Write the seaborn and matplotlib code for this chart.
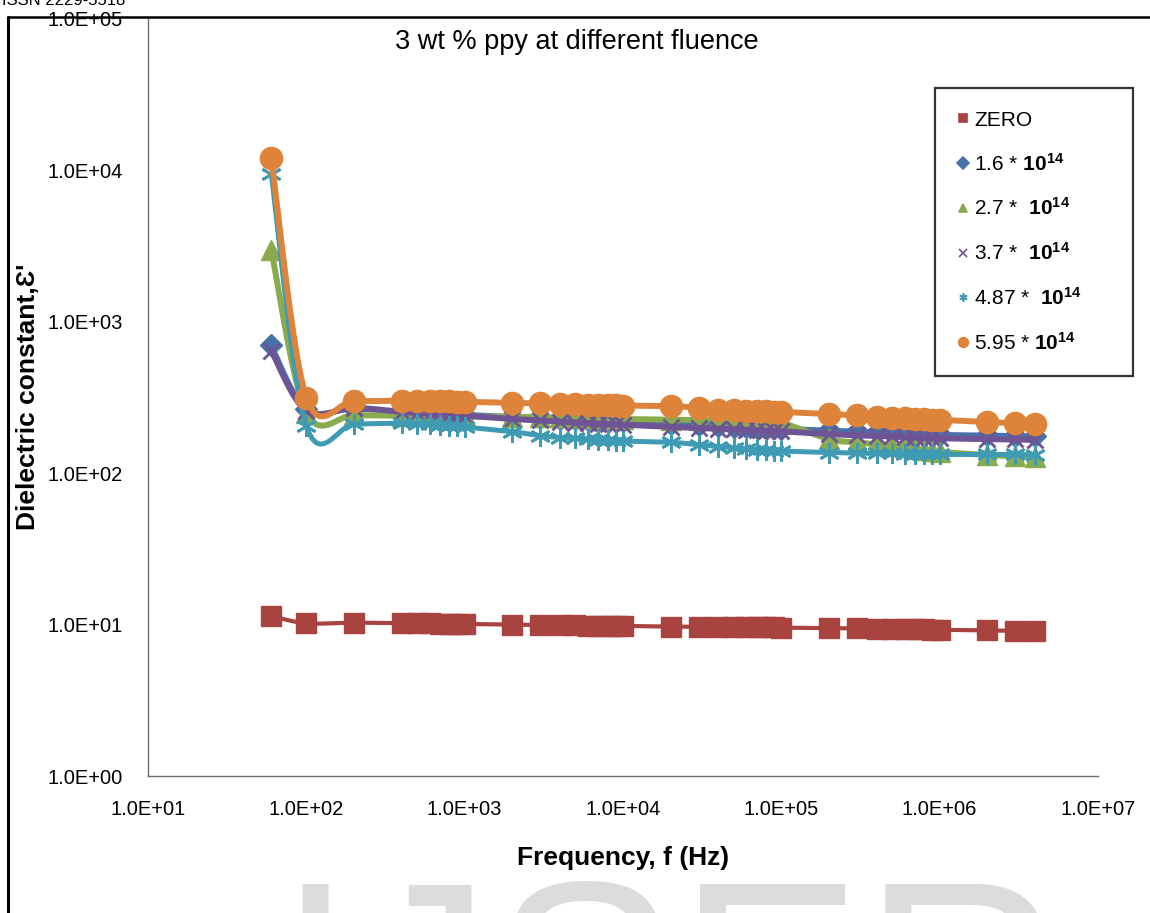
import numpy as np
import matplotlib
matplotlib.use("Agg")
import matplotlib.pyplot as plt
from matplotlib.lines import Line2D
from matplotlib.ticker import FixedLocator, FuncFormatter, NullLocator
import seaborn as sns

# Measurement frequencies (Hz)
freq = [60, 100, 200, 400, 500, 600, 700, 800, 900, 1e3,
        2e3, 3e3, 4e3, 5e3, 6e3, 7e3, 8e3, 9e3, 1e4,
        2e4, 3e4, 4e4, 5e4, 6e4, 7e4, 8e4, 9e4, 1e5,
        2e5, 3e5, 4e5, 5e5, 6e5, 7e5, 8e5, 9e5, 1e6,
        2e6, 3e6, 4e6]

# Dielectric constant for each fluence
eps_zero = [11.4, 10.2, 10.3, 10.2, 10.2, 10.2, 10.1, 10.1, 10.1, 10.1,
            10.0, 9.95, 9.9, 9.9, 9.85, 9.85, 9.8, 9.8, 9.8,
            9.7, 9.7, 9.65, 9.65, 9.6, 9.6, 9.6, 9.6, 9.55,
            9.5, 9.45, 9.4, 9.4, 9.35, 9.3, 9.3, 9.25, 9.25,
            9.15, 9.1, 9.05]
eps_16 = [700, 265, 266, 255, 252, 250, 248, 246, 245, 244,
          236, 232, 229, 227, 225, 224, 222, 221, 220,
          212, 208, 205, 203, 201, 200, 199, 198, 197,
          192, 189, 187, 185, 184, 183, 182, 181, 180,
          178, 177, 176]
eps_27 = [3000, 250, 242, 240, 239, 239, 238, 238, 237, 237,
          236, 235, 234, 233, 232, 231, 230, 229, 228,
          226, 224, 223, 222, 221, 220, 219, 218, 217,
          168, 160, 155, 151, 148, 145, 142, 140, 138,
          132, 129, 127]
eps_37 = [645, 258, 270, 254, 250, 247, 245, 243, 241, 240,
          228, 223, 219, 216, 214, 212, 211, 210, 209,
          202, 199, 197, 195, 193, 192, 191, 190, 189,
          181, 178, 176, 175, 174, 173, 172, 171, 170,
          168, 167, 166]
eps_487 = [9500, 205, 211, 214, 212, 210, 208, 206, 204, 202,
           188, 177, 172, 170, 168, 166, 165, 164, 163,
           160, 154, 150, 147, 145, 143, 142, 141, 140,
           137, 136, 135, 135, 134, 134, 134, 133, 133,
           133, 133, 132]
eps_595 = [12000, 315, 300, 302, 301, 300, 299, 298, 297, 296,
           292, 289, 287, 285, 284, 283, 282, 281, 280,
           277, 271, 262, 260, 258, 257, 256, 255, 254,
           246, 241, 236, 233, 231, 229, 227, 226, 225,
           218, 214, 211]

labels = ["ZERO",
          r"1.6 * $\mathbf{10}^{\mathbf{14}}$",
          r"2.7 *  $\mathbf{10}^{\mathbf{14}}$",
          r"3.7 *  $\mathbf{10}^{\mathbf{14}}$",
          r"4.87 *  $\mathbf{10}^{\mathbf{14}}$",
          r"5.95 * $\mathbf{10}^{\mathbf{14}}$"]
series = [eps_zero, eps_16, eps_27, eps_37, eps_487, eps_595]
colors = ["#A8433F", "#4672A8", "#8AAA4E", "#6E5494", "#3F9BB4", "#DE833A"]
markers = ["s", "D", "^", "x", (6, 2, 0), "o"]
msizes = [14, 11, 15, 12, 15, 16]
mew = [1, 1, 1, 2.0, 2.0, 1]
lwidths = [3.0, 3.8, 4.3, 4.3, 3.6, 4.3]

sns.set_theme(style="white")
plt.rcParams["font.family"] = ["Liberation Sans", "DejaVu Sans"]
plt.rcParams["mathtext.fontset"] = "custom"
plt.rcParams["mathtext.rm"] = "Liberation Sans"
plt.rcParams["mathtext.bf"] = "Liberation Sans:bold"
plt.rcParams["mathtext.it"] = "Liberation Sans:italic"
plt.rcParams["text.color"] = "black"
plt.rcParams["axes.labelcolor"] = "black"
plt.rcParams["xtick.color"] = "black"
plt.rcParams["ytick.color"] = "black"

W, H = 1150, 913
fig = plt.figure(figsize=(W / 100, H / 100), dpi=100)
fig.patch.set_facecolor("white")
L, R, T, B = 148, 1098, 19, 776
ax = fig.add_axes([L / W, 1 - B / H, (R - L) / W, (B - T) / H])
ax.set_xscale("log")
ax.set_yscale("log")
ax.set_xlim(10, 1e7)
ax.set_ylim(1, 1e5)

# pixel-per-decade factors so the curve smoothing happens in display-like space
PX, PY = (R - L) / 6.0, (B - T) / 5.0


def smooth(xs, ys, n=14):
    p = np.column_stack([np.log10(xs) * PX, np.log10(ys) * PY])
    ext = np.vstack([p[0], p, p[-1]])
    pts = []
    t = np.linspace(0, 1, n)[:, None]
    for i in range(len(p) - 1):
        p0, p1, p2, p3 = ext[i], ext[i + 1], ext[i + 2], ext[i + 3]
        b1 = p1 + (p2 - p0) / 6.0
        b2 = p2 - (p3 - p1) / 6.0
        seg = ((1 - t) ** 3) * p1 + 3 * ((1 - t) ** 2) * t * b1 \
            + 3 * (1 - t) * t ** 2 * b2 + t ** 3 * p2
        pts.append(seg if i == 0 else seg[1:])
    pts = np.vstack(pts)
    return 10 ** (pts[:, 0] / PX), 10 ** (pts[:, 1] / PY)


for k, (vals, c, m, ms, w, lw) in enumerate(zip(series, colors, markers, msizes, mew, lwidths)):
    sx, sy = smooth(freq, vals)
    sns.lineplot(x=sx, y=sy, ax=ax, color=c, linewidth=lw, sort=False,
                 estimator=None, legend=False, zorder=2 + 2 * k)
    ax.plot(freq, vals, linestyle="none", marker=m, markersize=ms, color=c,
            markeredgecolor=c, markerfacecolor=c, markeredgewidth=w, zorder=3 + 2 * k)

ax.xaxis.set_major_locator(FixedLocator([10.0 ** e for e in range(1, 8)]))
ax.yaxis.set_major_locator(FixedLocator([10.0 ** e for e in range(0, 6)]))
ax.xaxis.set_minor_locator(NullLocator())
ax.yaxis.set_minor_locator(NullLocator())
fmt = FuncFormatter(lambda v, pos: f"{v:.1E}")
ax.xaxis.set_major_formatter(fmt)
ax.yaxis.set_major_formatter(fmt)
ax.tick_params(axis="both", length=0, labelsize=14.5, colors="black")
ax.tick_params(axis="x", pad=17)
ax.tick_params(axis="y", pad=18)
for s in ["top", "right"]:
    ax.spines[s].set_visible(False)
for s in ["left", "bottom"]:
    ax.spines[s].set_color("#6F6F6F")
    ax.spines[s].set_linewidth(1.0)
ax.grid(False)

fig.text(577 / W, 1 - 42 / H, "3 wt % ppy at different fluence", ha="center",
         va="center", fontsize=19.5)
fig.text(623 / W, 1 - 858 / H, "Frequency, f (Hz)", ha="center", va="center",
         fontsize=19, fontweight="bold")
fig.text(28 / W, 1 - 397 / H, "Dielectric constant,\u0190'", ha="center", va="center",
         rotation=90, fontsize=19, fontweight="bold")

handles = [Line2D([], [], linestyle="none", marker=m, markersize=6 if m != "o" else 7,
                  color=c, markeredgewidth=1.2) for m, c in zip(markers, colors)]
leg = fig.legend(handles, labels, loc="upper left",
                 bbox_to_anchor=(935 / W, 1 - 88 / H - 0.01, 198 / W, 0.01), mode="expand",
                 frameon=True, fancybox=False, shadow=False, fontsize=15,
                 handlelength=0.5, handletextpad=0.3, labelspacing=1.1,
                 borderpad=1.08, borderaxespad=0)
leg.get_frame().set_edgecolor("black")
leg.get_frame().set_linewidth(1.6)

# page frame and running header
fig.add_artist(Line2D([8 / W, 8 / W], [0, 1 - 17 / H], transform=fig.transFigure,
                      color="black", linewidth=2.2))
fig.add_artist(Line2D([8 / W, 1], [1 - 17 / H, 1 - 17 / H], transform=fig.transFigure,
                      color="black", linewidth=1.8))
fig.text(2 / W, 1 - 5 / H, "ISSN 2229-5518", ha="left", va="baseline", fontsize=12,
         color="black")
# watermark
fig.text(670 / W, (H - 1076) / H, "IJSER", ha="center", va="baseline", fontsize=200,
         color="#DCDCDC", zorder=0)

fig.savefig("out.png", dpi=100)
